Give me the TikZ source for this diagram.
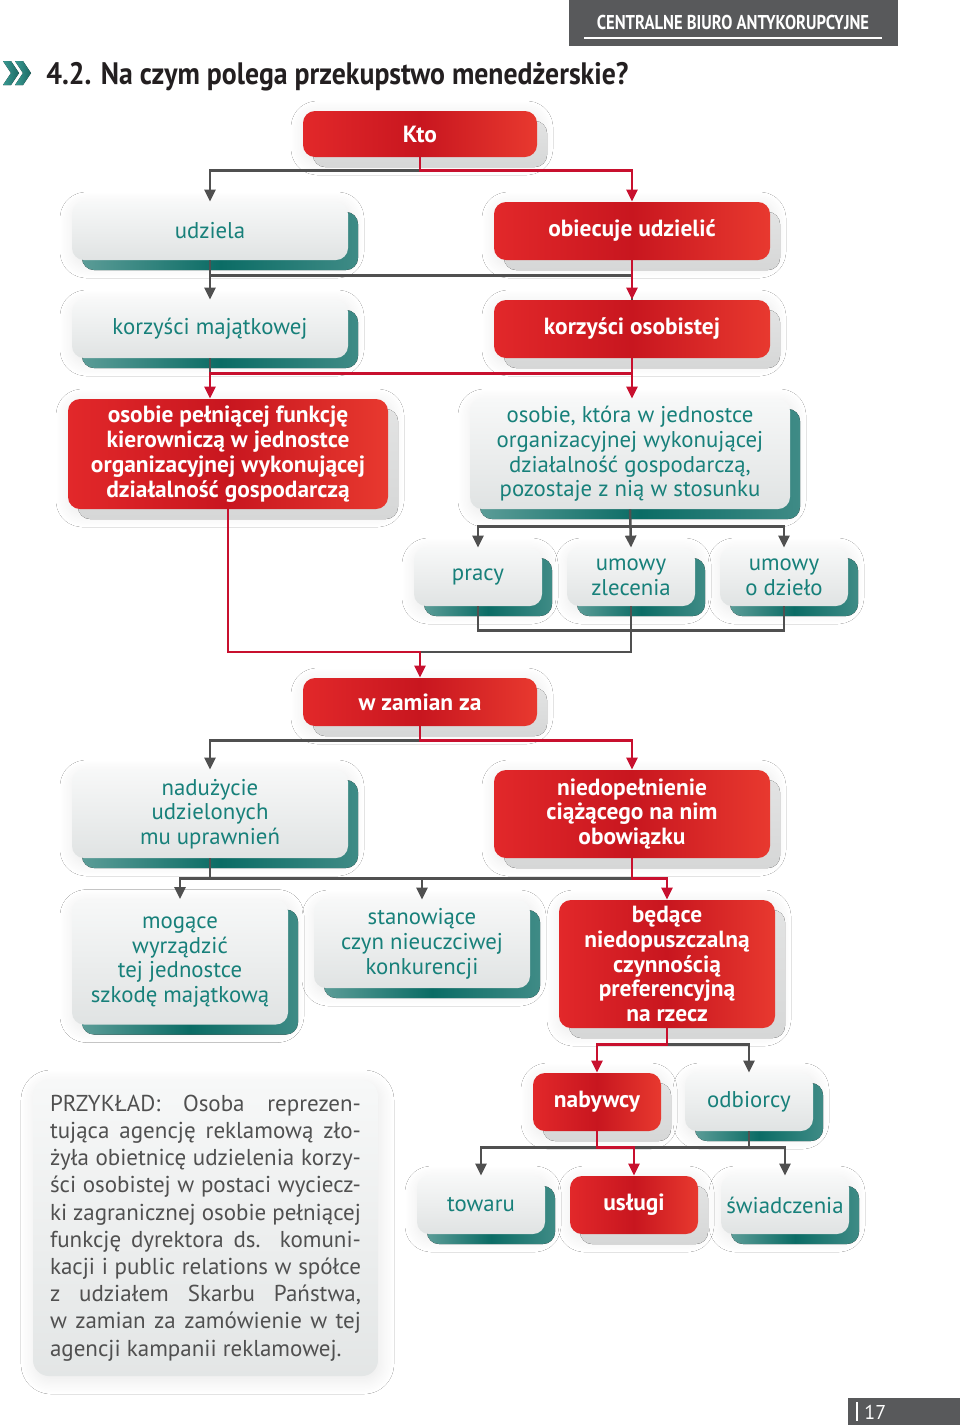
\documentclass[tikz,border=0pt]{standalone}
\usepackage{fontspec}
\usepackage{graphicx}
\setmainfont{PT Sans}
\usetikzlibrary{arrows.meta,calc,shadows,shadows.blur}
\definecolor{redL}{HTML}{E2282A}
\definecolor{redM}{HTML}{C8161F}
\definecolor{redR}{HTML}{E8392F}
\definecolor{redsh}{HTML}{D6D7D7}
\definecolor{grayT}{HTML}{F7F8F8}
\definecolor{grayB}{HTML}{E0E3E3}
\definecolor{tealL}{HTML}{5B9C97}
\definecolor{tealM}{HTML}{0B6C65}
\definecolor{tealR}{HTML}{3F8B86}
\definecolor{tealtxt}{HTML}{17807A}
\definecolor{lineGray}{HTML}{505050}
\definecolor{lineRed}{HTML}{C8102E}
\definecolor{hdrgray}{HTML}{58595B}
\definecolor{titletxt}{HTML}{231F20}
\definecolor{extxt}{HTML}{505050}
\definecolor{chevA}{HTML}{3A9A92}
\definecolor{chevB}{HTML}{1C6A65}
\newcommand\boxfont{\fontsize{11.4}{12.4}\selectfont}
\newcommand\boxfontb{\fontsize{11.7}{12.4}\selectfont\bfseries}
\begin{document}
\begin{tikzpicture}[x=0.5pt,y=-0.5pt,
  halo/.style={blur shadow={shadow xshift=1pt, shadow yshift=-2pt, shadow blur radius=7pt, shadow blur steps=24, shadow opacity=9}},
  basebox/.style={rounded corners=6pt, inner sep=0pt, align=center},
  redbox/.style={basebox, halo, copy shadow={shadow xshift=5pt, shadow yshift=-5pt, top color=redsh!70!white, bottom color=redsh, draw=none},
     left color=redL, right color=redR, middle color=redM, text=white, font=\boxfontb},
  graybox/.style={basebox, halo, copy shadow={shadow xshift=5pt, shadow yshift=-5pt, left color=tealL, right color=tealR, middle color=tealM, draw=none},
     top color=grayT, bottom color=grayB, text=tealtxt, font=\boxfont},
  gline/.style={draw=lineGray, line width=1.25pt},
  rline/.style={draw=lineRed, line width=1.25pt},
  arr/.style={-{Triangle[length=6pt,width=5.5pt]}},
]
\useasboundingbox (0,0) rectangle (960,1425);
\fill[white] (0,0) rectangle (960,1425);

% header
\fill[hdrgray] (569,0) rectangle (898,46);
\node[text=white, font=\fontsize{10}{12}\selectfont\bfseries] (hdr) at (733,22) {\scalebox{0.83}[1]{CENTRALNE BIURO ANTYKORUPCYJNE}};
\draw[white, line width=0.8pt] (584,38) -- (882,38);

% title
\fill[left color=chevA, right color=chevB] (3,61) -- (11,61) -- (19,73) -- (11,85) -- (3,85) -- (11,73) -- cycle;
\fill[left color=chevA, right color=chevB] (15,61) -- (23,61) -- (31,73) -- (23,85) -- (15,85) -- (23,73) -- cycle;
\node[anchor=base west, inner sep=0pt, text=titletxt, font=\fontsize{15.5}{18}\selectfont\bfseries] (title) at (46,84) {\scalebox{0.895}[1]{4.2. Na czym polega przekupstwo menedżerskie?}};

% boxes
\node[redbox, minimum width=117pt, minimum height=23pt] (kto) at (420,134) {Kto};
\node[graybox, minimum width=138pt, minimum height=29pt] (udz) at (210,231) {udziela};
\node[redbox, minimum width=138pt, minimum height=29pt] (obi) at (632,231) {\raisebox{-1pt}{obiecuje udzielić}};
\node[graybox, minimum width=138pt, minimum height=29pt] (kmaj) at (210,329) {\raisebox{-1pt}{korzyści majątkowej}};
\node[redbox, minimum width=138pt, minimum height=29pt] (kos) at (632,329) {\raisebox{-1pt}{korzyści osobistej}};
\node[redbox, minimum width=160pt, minimum height=55pt] (opf) at (228,454) {osobie pełniącej funkcję\\kierowniczą w jednostce\\organizacyjnej wykonującej\\działalność gospodarczą};
\node[graybox, minimum width=160pt, minimum height=55pt] (ok) at (630,454) {osobie, która w jednostce\\organizacyjnej wykonującej\\działalność gospodarczą,\\pozostaje z nią w stosunku};
\node[graybox, minimum width=64pt, minimum height=29pt] (pracy) at (478,577) {\raisebox{-1pt}{pracy}};
\node[graybox, minimum width=64pt, minimum height=29pt] (zlec) at (631,577) {umowy\\zlecenia};
\node[graybox, minimum width=64pt, minimum height=29pt] (dzielo) at (784,577) {umowy\\o dzieło};
\node[redbox, minimum width=117pt, minimum height=24pt] (wz) at (420,702) {w zamian za};
\node[graybox, minimum width=138pt, minimum height=44pt] (nad) at (210,814) {nadużycie\\udzielonych\\mu uprawnień};
\node[redbox, minimum width=138pt, minimum height=44pt] (nie) at (632,814) {niedopełnienie\\ciążącego na nim\\obowiązku};
\node[graybox, minimum width=108pt, minimum height=62.5pt] (mog) at (180,962) {mogące\\wyrządzić\\tej jednostce\\szkodę majątkową};
\node[graybox, minimum width=108pt, minimum height=44pt] (stan) at (422,944) {stanowiące\\czyn nieuczciwej\\konkurencji};
\node[redbox, minimum width=108pt, minimum height=64pt] (bed) at (667,964) {będące\\niedopuszczalną\\czynnością\\preferencyjną\\na rzecz};
\node[redbox, minimum width=64pt, minimum height=29pt] (nab) at (597,1102) {\raisebox{-1pt}{nabywcy}};
\node[graybox, minimum width=64pt, minimum height=29pt] (odb) at (749,1102) {\raisebox{-1pt}{odbiorcy}};
\node[graybox, minimum width=64pt, minimum height=29pt] (tow) at (481,1205) {towaru};
\node[redbox, minimum width=64pt, minimum height=29pt] (usl) at (634,1205) {\raisebox{-1pt}{usługi}};
\node[graybox, minimum width=64pt, minimum height=29pt] (swi) at (785,1205) {świadczenia};

% example
\node[rounded corners=8pt, halo, top color=grayT, bottom color=grayB!90!white, inner xsep=8.5pt, inner ysep=0pt,
  minimum height=148pt, text width=155.5pt, align=justify, text=extxt, font=\fontsize{11.5}{13.6}\selectfont] (przyk) at (205.5,1228)
{PRZYKŁAD: Osoba reprezen-\linebreak tująca agencję reklamową zło-\linebreak żyła obietnicę udzielenia korzy-\linebreak ści osobistej w~postaci wyciecz-\linebreak ki zagranicznej osobie pełniącej\linebreak funkcję dyrektora ds. komuni-\linebreak kacji i public relations w spółce\linebreak z udziałem Skarbu Państwa,\linebreak w zamian za zamówienie w tej\linebreak agencji kampanii reklamowej.};

% page number
\fill[hdrgray] (848,1398) rectangle (960,1425);
\draw[white, line width=0.6pt] (857,1402) -- (857,1421);
\node[text=white, font=\fontsize{10}{12}\selectfont, anchor=west, inner sep=0pt] (pg) at (864,1412) {17};

% connectors
\coordinate (j1) at (420,652);
\draw[gline, arr] ($(kto.south)+(0,13)$) -| (udz.north);
\draw[rline, arr] (kto.south) -- ++(0,13) -| (obi.north);
\draw[gline, arr] (udz.south) -- (kmaj.north);
\draw[gline] ($(udz.south)+(0,15)$) -| (kos.north);
\draw[rline, arr] (obi.south) -- (kos.north);
\draw[gline] (kmaj.south) -- ++(0,15);
\draw[rline, arr] (kos.south) -- (kos.south |- ok.north);
\draw[rline, arr] ($(kos.south)+(0,15)$) -| (kmaj.south |- opf.north);
\draw[gline, arr] ($(ok.south)+(0,17)$) -| (pracy.north);
\draw[gline, arr] ($(ok.south)+(0,17)$) -| (dzielo.north);
\draw[gline, arr] (ok.south) -- (zlec.north);
\draw[gline] (pracy.south) -- ++(0,24) -| (dzielo.south);
\draw[gline] (zlec.south) |- (j1);
\draw[rline, arr] (opf.south) |- (j1) -- (wz.north);
\draw[gline, arr] ($(wz.south)+(0,14)$) -| (nad.north);
\draw[rline, arr] (wz.south) -- ++(0,14) -| (nie.north);
\draw[gline, arr] (nad.south) -- ++(0,20) -| (mog.north);
\draw[gline, arr] ($(nad.south)+(0,20)$) -| (stan.north);
\draw[gline] ($(nad.south)+(0,20)$) -| (nie.south);
\draw[rline, arr] (nie.south) -- ++(0,20) -| (bed.north);
\draw[gline, arr] ($(bed.south)+(0,16)$) -| (odb.north);
\draw[rline, arr] (bed.south) -- ++(0,16) -| (nab.north);
\draw[gline, arr] ($(nab.south)+(0,16)$) -| (tow.north);
\draw[gline, arr] (odb.south) -- ++(0,16) -| (swi.north);
\draw[gline] ($(nab.south)+(0,16)$) -- ($(odb.south)+(0,16)$);
\draw[rline, arr] (nab.south) -- ++(0,16) -| (usl.north);
\end{tikzpicture}
\end{document}
